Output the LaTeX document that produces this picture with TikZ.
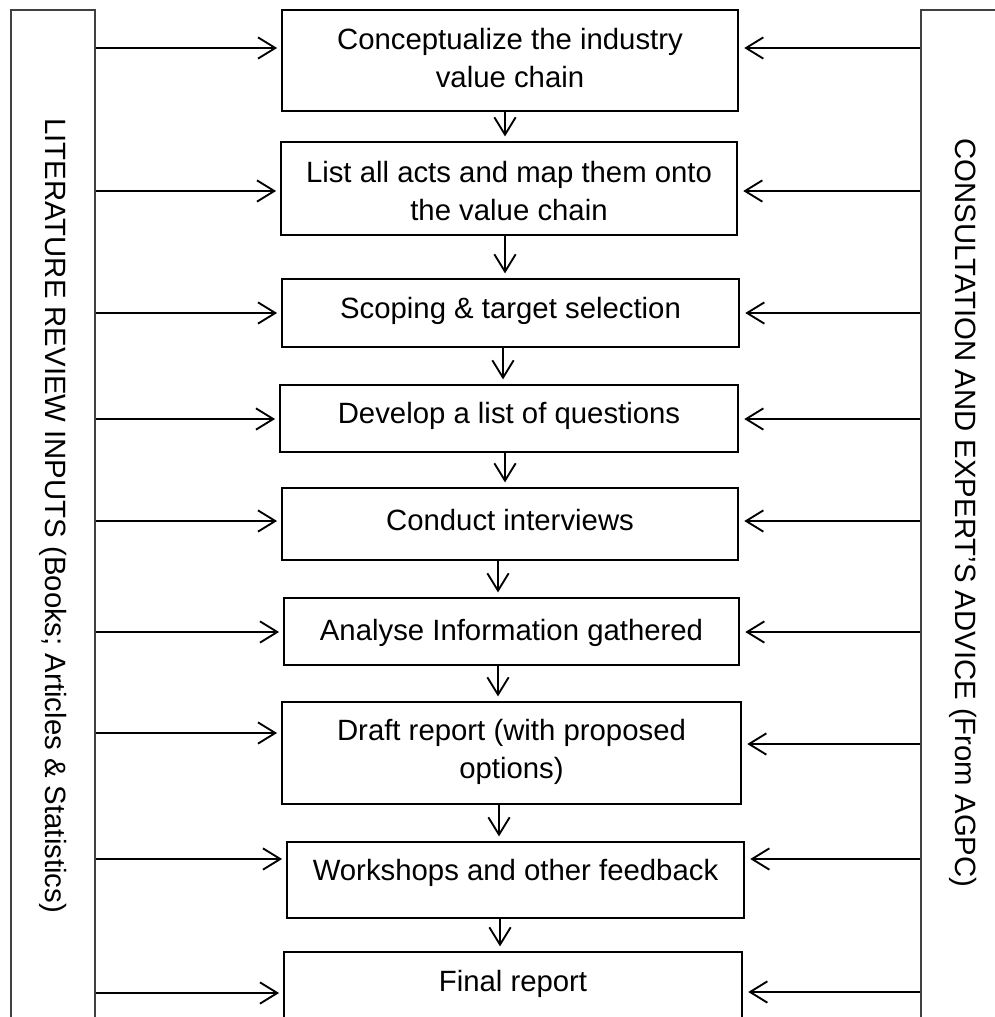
\documentclass[tikz,border=0pt]{standalone}
\usepackage{fontspec}
\setmainfont{Liberation Sans}
\usetikzlibrary{arrows.meta,fit}
\begin{document}
\begin{tikzpicture}[x=0.75pt,y=-0.75pt,
  box/.style={draw=black, line width=1.4pt, rectangle, inner sep=0pt},
  side/.style={draw=black!75, line width=1.1pt, rectangle, inner sep=0pt},
  lbl/.style={font=\fontsize{22}{28.5}\selectfont, align=center, inner sep=0pt, anchor=base},
  sidelbl/.style={font=\fontsize{22}{28}\selectfont, rotate=-90, anchor=base west, inner sep=0pt},
  arr/.style={line width=1.4pt, -{Straight Barb[length=13pt,width=16pt,line width=1.4pt]}},
  larr/.style={arr, shorten >=3pt},
  rarr/.style={arr, shorten >=4pt},
  darr/.style={arr, shorten >=3.5pt},
]
\useasboundingbox (0,0) rectangle (995,1017);
\clip (0,0) rectangle (995,1017);

% side panels
\node[side, fit={(11,10) (95,1060)}] (L) {};
\node[side, fit={(921,10) (1060,1060)}] (R) {};
\node[sidelbl] (LT) at (45,118) {LITERATURE REVIEW INPUTS (Books; Articles \& Statistics)};
\node[sidelbl] (RT) at (955,138) {CONSULTATION AND EXPERT’S ADVICE (From AGPC)};

% boxes
\node[box, fit={(282,10) (738,111)}] (b1) {};
\node[box, fit={(281,142) (737,235)}] (b2) {};
\node[box, fit={(282,279) (739,347)}] (b3) {};
\node[box, fit={(280,385) (738,452)}] (b4) {};
\node[box, fit={(282,488) (738,560)}] (b5) {};
\node[box, fit={(284,598) (739,665)}] (b6) {};
\node[box, fit={(282,702) (741,804)}] (b7) {};
\node[box, fit={(287,842) (744,918)}] (b8) {};
\node[box, fit={(284,952) (742,1060)}] (b9) {};

% labels (two-line labels: anchor is the baseline of the last line)
\node[lbl] (t1) at (510,87) {Conceptualize the industry\\value chain};
\node[lbl] (t2) at (509,220) {List all acts and map them onto\\the value chain};
\node[lbl] (t3) at (510.5,318) {Scoping \& target selection};
\node[lbl] (t4) at (509,423) {Develop a list of questions};
\node[lbl] (t5) at (510,530) {Conduct interviews};
\node[lbl] (t6) at (511.5,640) {Analyse Information gathered};
\node[lbl] (t7) at (511.5,778) {Draft report (with proposed\\options)};
\node[lbl] (t8) at (515.5,880) {Workshops and other feedback};
\node[lbl] (t9) at (513,991) {Final report};

% left inputs
\draw[larr] (L.east |- 0,48)  -- (b1.west |- 0,48);
\draw[larr] (L.east |- 0,191) -- (b2.west |- 0,191);
\draw[larr] (L.east |- 0,313) -- (b3.west |- 0,313);
\draw[larr] (L.east |- 0,419) -- (b4.west |- 0,419);
\draw[larr] (L.east |- 0,521) -- (b5.west |- 0,521);
\draw[larr] (L.east |- 0,632) -- (b6.west |- 0,632);
\draw[larr] (L.east |- 0,733) -- (b7.west |- 0,733);
\draw[larr] (L.east |- 0,859) -- (b8.west |- 0,859);
\draw[larr] (L.east |- 0,993) -- (b9.west |- 0,993);

% right inputs
\draw[rarr] (R.west |- 0,48)  -- (b1.east |- 0,48);
\draw[rarr] (R.west |- 0,191) -- (b2.east |- 0,191);
\draw[rarr] (R.west |- 0,313) -- (b3.east |- 0,313);
\draw[rarr] (R.west |- 0,419) -- (b4.east |- 0,419);
\draw[rarr] (R.west |- 0,521) -- (b5.east |- 0,521);
\draw[rarr] (R.west |- 0,632) -- (b6.east |- 0,632);
\draw[rarr] (R.west |- 0,744) -- (b7.east |- 0,744);
\draw[rarr] (R.west |- 0,859) -- (b8.east |- 0,859);
\draw[rarr] (R.west |- 0,992) -- (b9.east |- 0,992);

% flow
\draw[darr] (b1.south -| 505,0) -- (b2.north -| 505,0);
\draw[darr] (b2.south -| 505,0) -- (b3.north -| 505,0);
\draw[darr] (b3.south -| 503,0) -- (b4.north -| 503,0);
\draw[darr] (b4.south -| 505,0) -- (b5.north -| 505,0);
\draw[darr] (b5.south -| 498,0) -- (b6.north -| 498,0);
\draw[darr] (b6.south -| 498,0) -- (b7.north -| 498,0);
\draw[darr] (b7.south -| 499,0) -- (b8.north -| 499,0);
\draw[darr] (b8.south -| 500,0) -- (b9.north -| 500,0);
\end{tikzpicture}
\end{document}
